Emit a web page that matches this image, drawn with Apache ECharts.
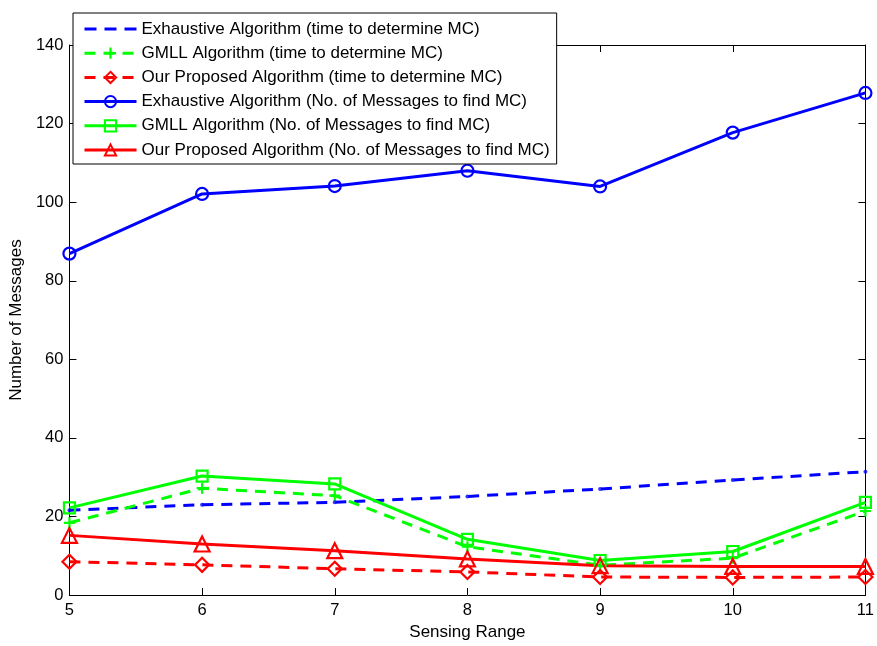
<!DOCTYPE html>
<html><head><meta charset="utf-8">
<script src="https://cdn.jsdelivr.net/npm/echarts@6/dist/echarts.min.js"></script>
<style>html,body{margin:0;padding:0;background:#fff;overflow:hidden}#c{width:877px;height:646px}</style>
</head><body><div id="c"></div>
<script>
const sensingRange = [5, 6, 7, 8, 9, 10, 11];
const exhaustiveTime = [21.6, 23.0, 23.6, 25.1, 27.0, 29.3, 31.4];
const gmllTime = [18.4, 27.2, 25.3, 12.3, 7.6, 9.4, 21.4];
const proposedTime = [8.5, 7.7, 6.7, 5.9, 4.6, 4.5, 4.6];
const exhaustiveMsgs = [86.9, 102.1, 104.1, 108.0, 104.0, 117.7, 127.8];
const gmllMsgs = [22.2, 30.3, 28.3, 14.2, 8.8, 11.1, 23.6];
const proposedMsgs = [15.2, 13.0, 11.3, 9.2, 7.5, 7.3, 7.3];
const seriesNames = [
  'Exhaustive Algorithm (time to determine MC)',
  'GMLL Algorithm (time to determine MC)',
  'Our Proposed Algorithm (time to determine MC)',
  'Exhaustive Algorithm (No. of Messages to find MC)',
  'GMLL Algorithm (No. of Messages to find MC)',
  'Our Proposed Algorithm (No. of Messages to find MC)'
];
const xTitle = 'Sensing Range';
const yTitle = 'Number of Messages';

const BLUE = '#0000ff', GREEN = '#00ff00', RED = '#ff0000';
const FONT = 'Liberation Sans, Arial, Helvetica, sans-serif';
const pair = arr => arr.map((v, i) => [sensingRange[i], v]);
const plus = 'path://M4,0h2v4h4v2h-4v4h-2v-4h-4v-2h4z';
const dashIcon = 'path://M0,0h0.05v0.05h-0.05zM0,13.95h0.05v0.05h-0.05zM0,5.5h12v3h-12zM20,5.5h12v3h-12zM40,5.5h12v3h-12z';
const dash = [11, 8];

function mk(name, data, color, dashed, symbol, size, hollow) {
  return {
    name, type: 'line', data: pair(data), color,
    symbol, symbolSize: size, showSymbol: symbol !== 'none',
    lineStyle: { color, width: 3, type: dashed ? dash : 'solid' },
    itemStyle: hollow ? { color: 'rgba(255,255,255,0)', borderColor: color, borderWidth: 2.2 } : { color, borderWidth: 0 },
    emphasis: { disabled: true }, animation: false, z: 3
  };
}

const chart = echarts.init(document.getElementById('c'), null, { renderer: 'canvas' });
const axisCommon = {
  axisLine: { show: true, onZero: false, lineStyle: { color: '#000', width: 1 } },
  axisTick: { show: true, inside: true, length: 7, lineStyle: { color: '#000' } },
  splitLine: { show: false }
};
chart.setOption({
  backgroundColor: '#fff',
  animation: false,
  grid: { left: 69, right: 9, top: 45, bottom: 46, show: false },
  legend: {
    orient: 'vertical', left: 73, top: 13,
    backgroundColor: '#fff', borderColor: '#000', borderWidth: 1,
    padding: [7, 7, 5, 10], itemGap: 6.2, itemWidth: 52, itemHeight: 14,
    lineStyle: { width: 3 },
    textStyle: { fontFamily: FONT, fontSize: 17, color: '#000', lineHeight: 18 },
    data: [{ name: seriesNames[0], icon: dashIcon }].concat(seriesNames.slice(1))
  },
  xAxis: [
    Object.assign({ type: 'value', min: 5, max: 11, interval: 1, position: 'bottom',
      name: xTitle, nameLocation: 'middle', nameGap: 27,
      nameTextStyle: { fontFamily: FONT, fontSize: 17, color: '#000' },
      axisLabel: { fontFamily: FONT, fontSize: 16.5, color: '#000', margin: 7 } }, axisCommon),
    Object.assign({ type: 'value', min: 5, max: 11, interval: 1, position: 'top',
      axisLabel: { show: false } }, axisCommon)
  ],
  yAxis: [
    Object.assign({ type: 'value', min: 0, max: 140, interval: 20, position: 'left',
      name: yTitle, nameLocation: 'middle', nameGap: 41,
      nameTextStyle: { fontFamily: FONT, fontSize: 17, color: '#000' },
      axisLabel: { fontFamily: FONT, fontSize: 16.5, color: '#000', margin: 6 } }, axisCommon),
    Object.assign({ type: 'value', min: 0, max: 140, interval: 20, position: 'right',
      axisLabel: { show: false } }, axisCommon)
  ],
  series: [
    mk(seriesNames[0], exhaustiveTime, BLUE, true, 'none', 0, false),
    mk(seriesNames[1], gmllTime, GREEN, true, plus, 11, false),
    mk(seriesNames[2], proposedTime, RED, true, 'diamond', 14, true),
    mk(seriesNames[3], exhaustiveMsgs, BLUE, false, 'circle', 12, true),
    mk(seriesNames[4], gmllMsgs, GREEN, false, 'rect', 11, true),
    mk(seriesNames[5], proposedMsgs, RED, false, 'triangle', 15, true),
    { name: 'exhaustiveTimePoints', type: 'scatter', data: pair(exhaustiveTime), symbol: 'circle',
      symbolSize: 4, itemStyle: { color: BLUE }, z: 3, emphasis: { disabled: true } }
  ]
});
</script></body></html>
